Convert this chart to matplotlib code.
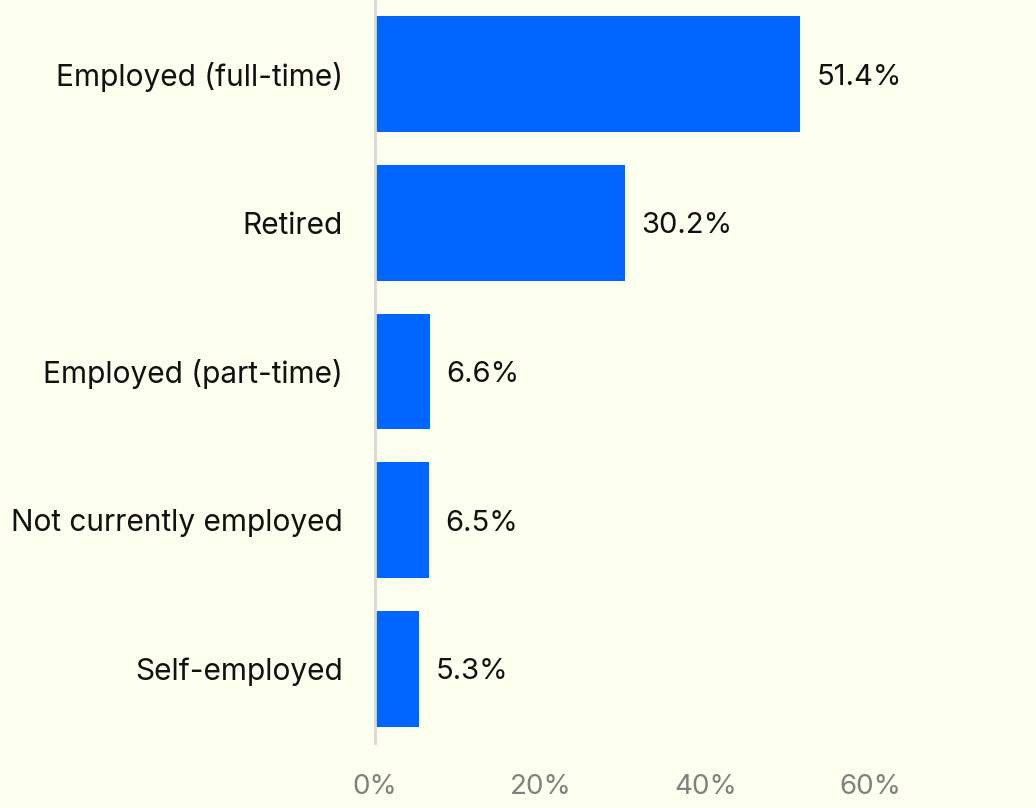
import matplotlib.pyplot as plt

categories = ["Employed (full-time)", "Retired", "Employed (part-time)",
              "Not currently employed", "Self-employed"]
values = [51.4, 30.2, 6.6, 6.5, 5.3]
tick_values = [0, 20, 40, 60]
tick_labels = ["0%", "20%", "40%", "60%"]

bg = "#fdffee"
bar_color = "#0066ff"

plt.rcParams["font.family"] = ["Inter", "DejaVu Sans"]

fig = plt.figure(figsize=(10.36, 8.08), dpi=100, facecolor=bg)
ax = fig.add_axes([375 / 1036, 65 / 808, 1 - 375 / 1036, 743 / 808])
ax.set_facecolor(bg)

y = list(range(len(categories)))
ax.barh(y, values, height=0.78, color=bar_color, zorder=2)
for yi, v in zip(y, values):
    ax.text(v + 2.0, yi, f"{v}%", va="center_baseline", ha="left",
            fontsize=21, color="#111111")

ax.set_xlim(0, 80)
ax.set_ylim(len(categories) - 0.5, -0.5)
ax.set_yticks(y)
ax.set_yticklabels(categories, fontsize=21.5, color="#111111")
ax.set_xticks(tick_values)
ax.set_xticklabels(tick_labels, fontsize=20, color="#808080")
ax.tick_params(axis="y", length=0, pad=23)
ax.tick_params(axis="x", length=0, pad=22)

for s in ["top", "right", "bottom"]:
    ax.spines[s].set_visible(False)
ax.spines["left"].set_color("#d8d8d8")
ax.spines["left"].set_linewidth(2)

fig.savefig("out.png", dpi=100, facecolor=bg)
